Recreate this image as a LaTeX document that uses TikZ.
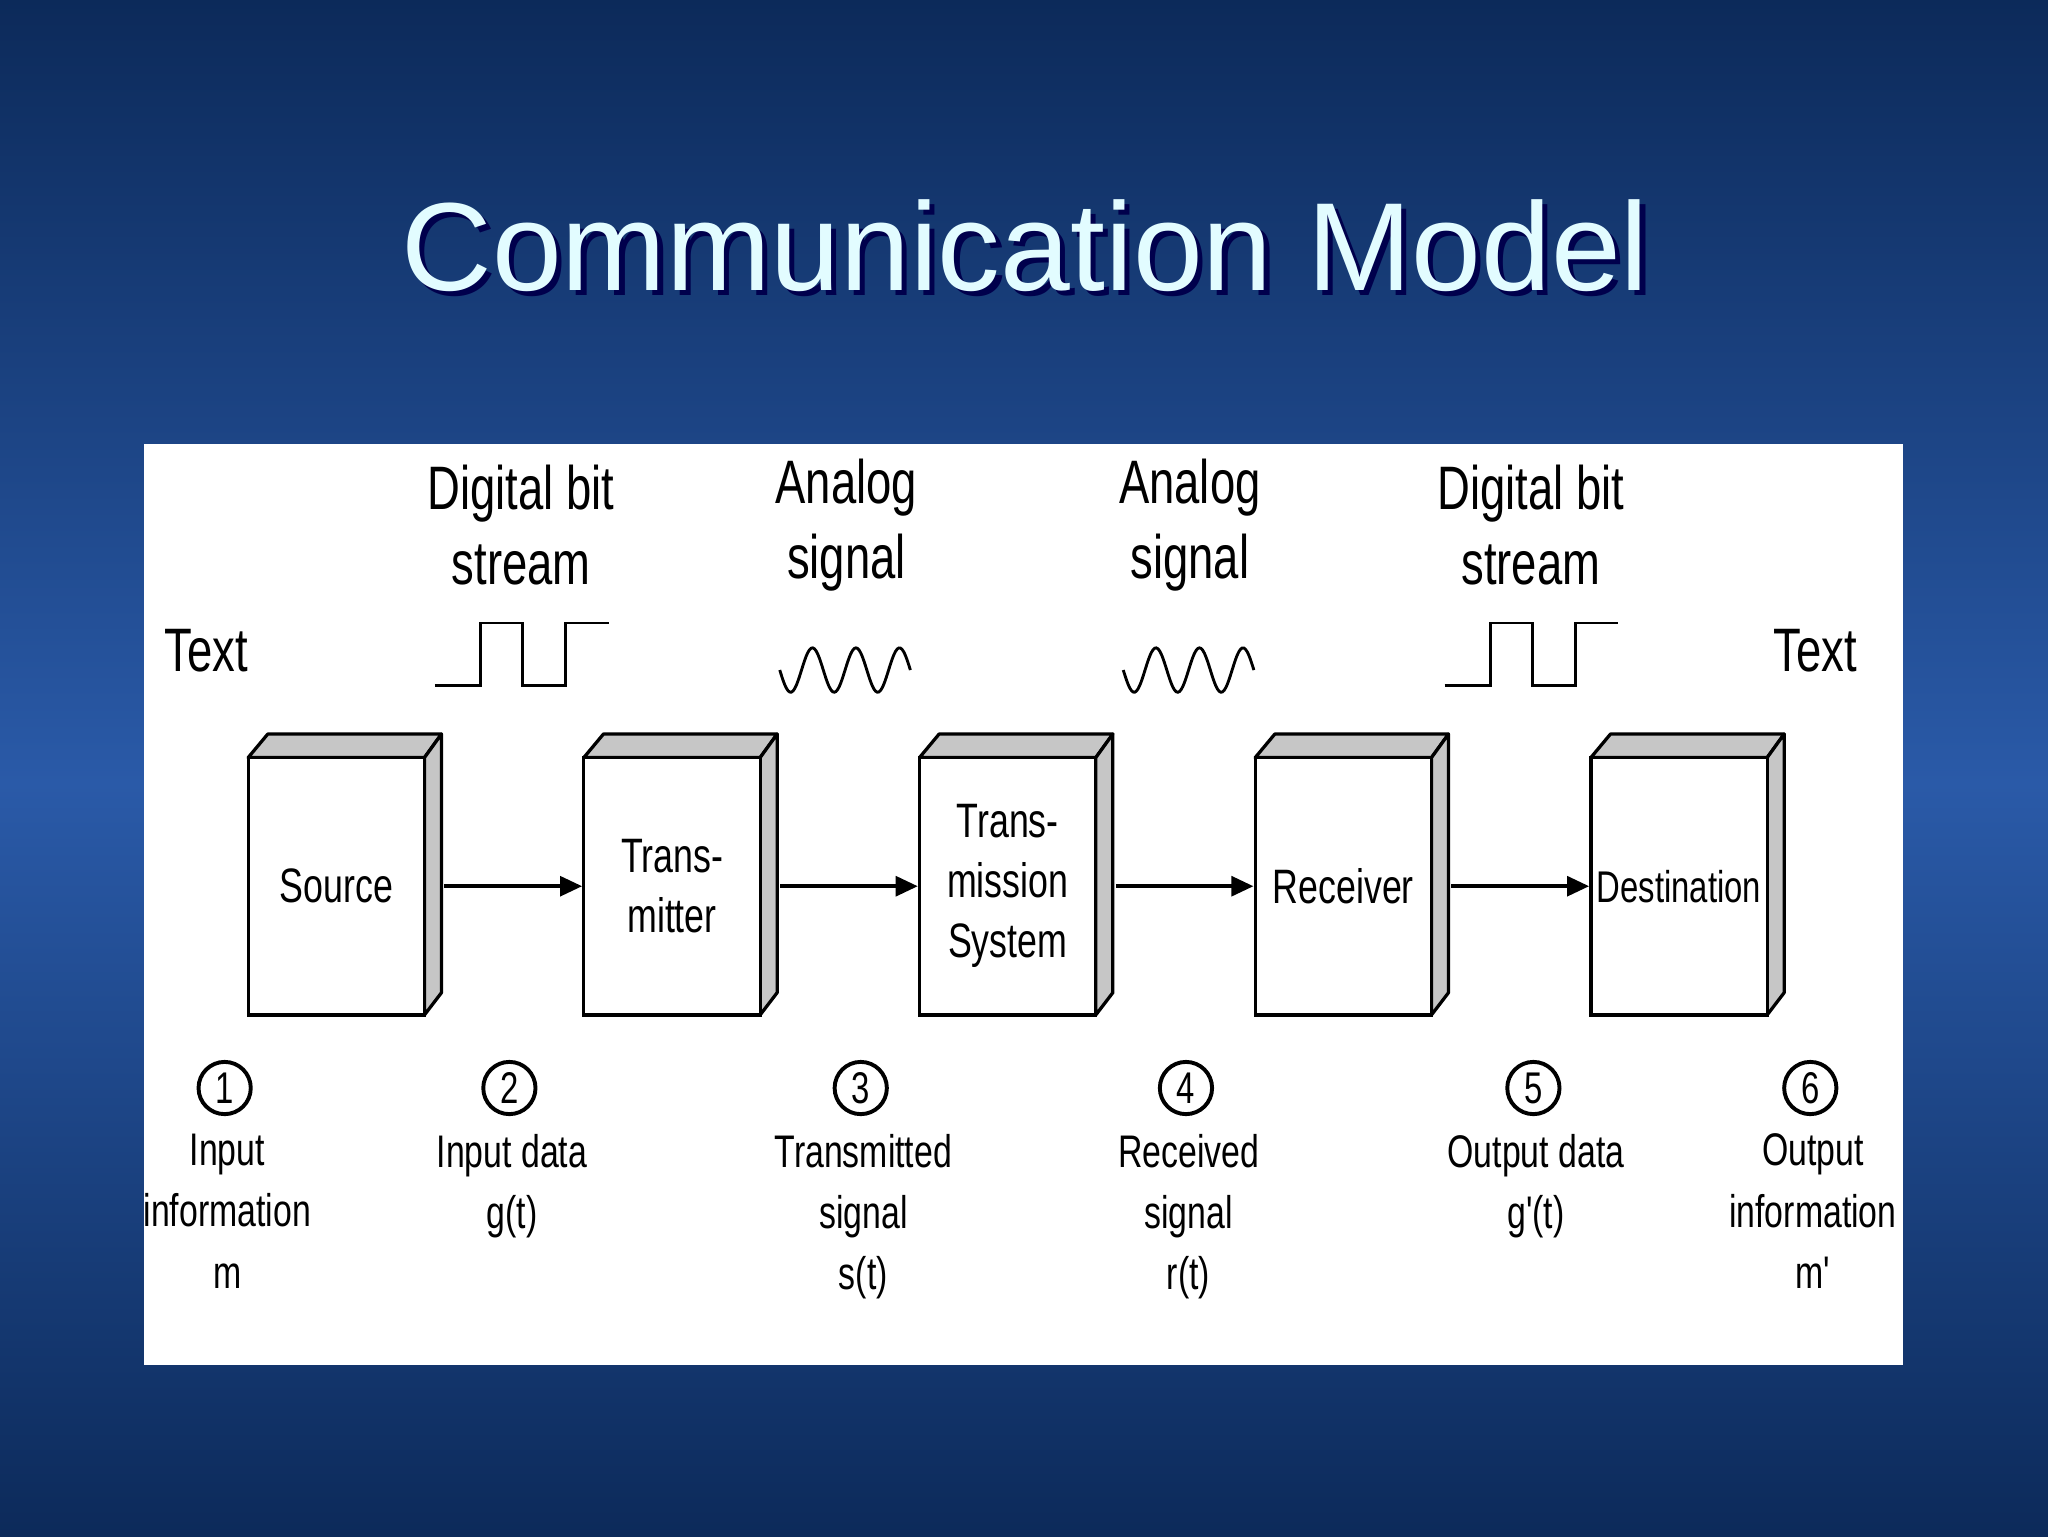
\documentclass[tikz,border=0pt]{standalone}
\usepackage{fontspec}
\setmainfont{Liberation Sans}
\newfontfamily\narrow[FakeStretch=0.74]{Liberation Sans}
\usetikzlibrary{arrows.meta}
\definecolor{bgdark}{HTML}{0C2A5A}
\definecolor{bgmid}{HTML}{2A5AA8}
\definecolor{titlec}{HTML}{E2FCFF}
\begin{document}
\begin{tikzpicture}[x=1pt,y=-1pt,
  lbl/.style={font=\narrow\fontsize{47}{58}\selectfont,align=center,inner sep=0},
  boxtxt/.style={font=\narrow\fontsize{37}{46}\selectfont,align=center,inner sep=0},
  bot/.style={font=\narrow\fontsize{35}{47}\selectfont,align=center,inner sep=0,anchor=north},
  num/.style={circle,draw,line width=3pt,minimum size=40pt,inner sep=0,font=\narrow\fontsize{34}{34}\selectfont},
  sig/.style={line width=2.2pt},
  arr/.style={line width=3.2pt,-{Triangle[length=17pt,width=15pt]}},
  face/.style={fill=gray!45,draw,line width=2.5pt,line join=round}]
\useasboundingbox (0,0) rectangle (1568,1176);
\shade[top color=bgdark,bottom color=bgmid] (0,0) rectangle (1568,600);
\shade[top color=bgmid,bottom color=bgdark] (0,600) rectangle (1568,1176);
\node[font=\fontsize{96}{100}\selectfont,text=black!70!blue] (shadow) at (789,192) {Communication Model};
\node[font=\fontsize{96}{100}\selectfont,text=titlec] (title) at (785,188) {Communication Model};
\fill[white] (110,340) rectangle (1457,1045);
% boxes
\foreach \i/\x/\t in {1/190/Source,2/447/Trans-\\mitter,3/704/Trans-\\mission\\System,4/961/Receiver,5/1218/{\fontsize{34}{40}\selectfont Destination}}{
  \fill[face] (\x,580) -- (\x+15,562) -- (\x+148,562) -- (\x+135,580) -- cycle;
  \fill[face] (\x+135,580) -- (\x+148,562) -- (\x+148,760) -- (\x+135,777) -- cycle;
  \node[draw,line width=2.5pt,fill=white,minimum width=135pt,minimum height=197pt,inner sep=0,boxtxt] (b\i) at (\x+67.5,678.5) {\t};
}
\foreach \a/\b in {1/2,2/3,3/4,4/5}{
  \draw[arr] ([xshift=14pt]b\a.east) -- (b\b.west);
}
% top labels
\node[lbl] (l1) at (399,402) {Digital bit\\stream};
\node[lbl] (l2) at (648,402) {Analog\\signal};
\node[lbl] (l3) at (911,402) {Analog\\signal};
\node[lbl] (l4) at (1172,402) {Digital bit\\stream};
\node[lbl] (t1) at (158,498) {Text};
\node[lbl] (t2) at (1390,498) {Text};
% signals
\foreach \o in {0,773}{
  \draw[sig] (333+\o,525) -- (368+\o,525) -- (368+\o,477) -- (400+\o,477) -- (400+\o,525) -- (433+\o,525) -- (433+\o,477) -- (466+\o,477);
}
\foreach \o in {597,860}{
  \draw[sig,domain=0:100,samples=80,smooth] plot (\x+\o,{513-17*sin(\x*3*3.6+180)});
}
% numbers and bottom labels
\foreach \i/\x/\t in {1/172/Input\\information\\m,2/390/Input data\\g(t),3/659/Transmitted\\signal\\s(t),4/908/Received\\signal\\r(t),5/1174/Output data\\g'(t),6/1386/Output\\information\\m'}{
  \node[num] (n\i) at (\x,833) {\i};
  \node[bot] (d\i) at (\x+2,868) {\t};
}
\end{tikzpicture}
\end{document}
